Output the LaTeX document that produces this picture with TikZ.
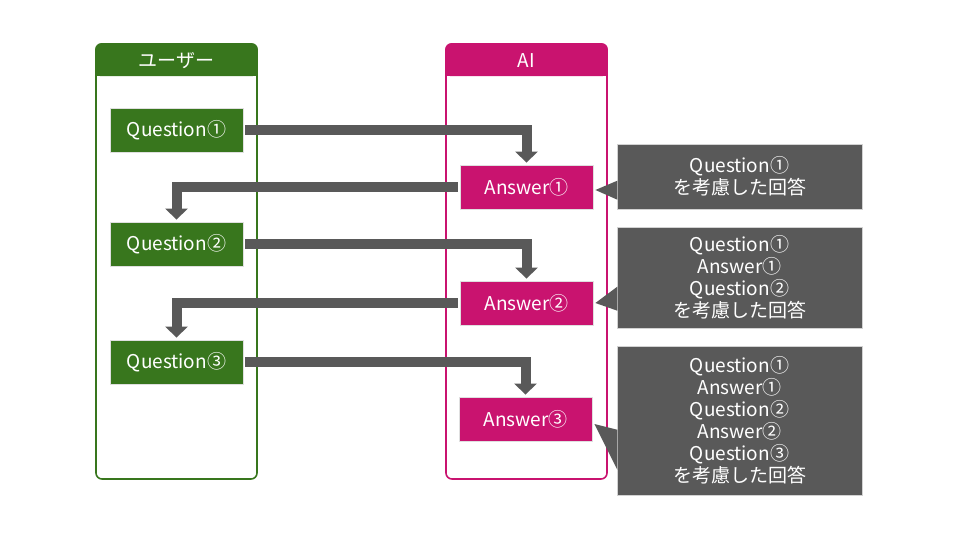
\documentclass[tikz,border=0pt]{standalone}
\usepackage{fontspec}
\setmainfont{Noto Sans CJK JP}
\usetikzlibrary{arrows.meta,calc}
\definecolor{ugreen}{HTML}{38761D}
\definecolor{aipink}{HTML}{C9136F}
\definecolor{dgray}{HTML}{595959}
\begin{document}
\begin{tikzpicture}[x=1pt,y=-1pt,
  lane/.style={draw, line width=1.6pt, rounded corners=6pt, minimum width=161pt, minimum height=435pt, inner sep=0pt},
  qbox/.style={fill=ugreen, draw=gray!25, line width=0.8pt, minimum width=133pt, minimum height=44pt, text=white, font=\fontsize{19}{22}\selectfont, inner sep=0pt},
  abox/.style={qbox, fill=aipink},
  flow/.style={draw=dgray, line width=10pt, line join=miter, shorten <=2pt, shorten >=2pt, -{Triangle[width=22pt,length=11pt]}},
  note/.style={fill=dgray, draw=gray!35, line width=0.6pt, minimum width=245pt, text=white, align=center, font=\fontsize{19}{22}\selectfont, inner sep=0pt},
  hdr/.style={text=white, font=\fontsize{19}{22}\selectfont, inner sep=0pt},
  pointer/.style={fill=dgray}
]
\useasboundingbox (0,0) rectangle (960,540);

% lanes
\node[lane, draw=ugreen] (lane1) at (176.5,261.5) {};
\node[lane, draw=aipink] (lane2) at (526.5,261.5) {};
\fill[ugreen, rounded corners=6pt] (lane1.north west) rectangle ($(lane1.north east)+(0,33)$);
\fill[ugreen] ($(lane1.north west)+(0,15)$) rectangle ($(lane1.north east)+(0,33)$);
\fill[aipink, rounded corners=6pt] (lane2.north west) rectangle ($(lane2.north east)+(0,33)$);
\fill[aipink] ($(lane2.north west)+(0,15)$) rectangle ($(lane2.north east)+(0,33)$);
\node[hdr] (h1) at ($(lane1.north)+(0,17)$) {ユーザー};
\node[hdr] (h2) at ($(lane2.north)+(0,17)$) {AI};

% boxes
\node[qbox] (q1) at (176.5,130) {Question①};
\node[qbox] (q2) at (176.5,244) {Question②};
\node[qbox] (q3) at (176.5,362) {Question③};
\node[abox] (a1) at (526.5,187) {Answer①};
\node[abox] (a2) at (526.5,303) {Answer②};
\node[abox] (a3) at (525.5,419) {Answer③};

% flows
\draw[flow] (q1.east) -| (a1.north);
\draw[flow] (a1.west) -| (q2.north);
\draw[flow] (q2.east) -| (a2.north);
\draw[flow] (a2.west) -| (q3.north);
\draw[flow] (q3.east) -| (a3.north);

% notes
\node[note, minimum height=65pt] (c1) at (739.5,176.5) {Question①\\を考慮した回答};
\node[note, minimum height=101pt] (c2) at (739.5,277.5) {Question①\\Answer①\\Question②\\を考慮した回答};
\node[note, minimum height=149pt] (c3) at (739.5,420.5) {Question①\\Answer①\\Question②\\Answer②\\Question③\\を考慮した回答};

\fill[pointer] ($(c1.north west)+(0.6,37)$) -- ($(a1.east)+(2,3)$) -- ($(c1.north west)+(0.6,56)$) -- cycle;
\fill[pointer] ($(c2.north west)+(0.6,60)$) -- ($(a2.east)+(2,0)$) -- ($(c2.north west)+(0.6,84)$) -- cycle;
\fill[pointer] ($(c3.north west)+(0.6,84)$) -- ($(a3.east)+(2,5)$) -- ($(c3.north west)+(0.6,124)$) -- cycle;
\end{tikzpicture}
\end{document}
